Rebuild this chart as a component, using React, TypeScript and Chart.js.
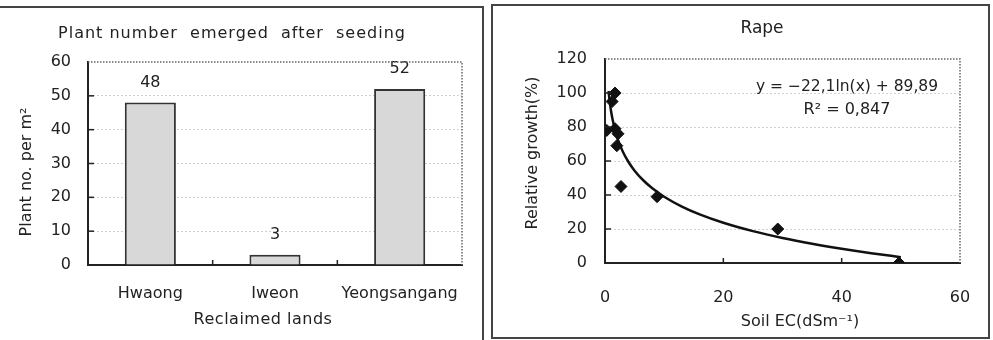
import React, { useEffect, useRef } from 'react';
import { Chart, registerables } from 'chart.js';

Chart.register(...registerables);

// Plant emergence after seeding, by reclaimed land
const LANDS = ['Hwaong', 'Iweon', 'Yeongsangang'];
const PLANT_COUNTS = [48, 3, 52];
const COUNT_MAX = 60;
const COUNT_STEP = 10;

// Relative growth of rape against soil EC
const SOIL_EC = [0.3, 1.2, 1.7, 1.7, 2.2, 2.0, 2.7, 8.8, 29.2, 49.7];
const REL_GROWTH = [78, 95, 100, 79, 76, 69, 45, 39, 20, 0];
const GROWTH_MAX = 120;
const GROWTH_STEP = 20;
const EC_MAX = 60;
const EC_STEP = 20;

// Logarithmic fit y = a ln(x) + b, as printed on the chart
const TREND_SLOPE = -22.1;
const TREND_INTERCEPT = 89.89;
const TREND_X = [0.6, 0.75, 1, 1.3, 1.7, 2.2, 3, 4, 5, 6.5, 8, 10, 13, 16, 20, 25, 30, 35, 40, 45, 50];
const TREND_LABEL = 'y = −22,1ln(x) + 89,89';
const R2_LABEL = 'R² = 0,847';

const FONT = 'DejaVu Sans';
const INK = '#222';

// Dotted top/right frame and short inner tick marks
const framePlugin = {
  id: 'frame',
  afterDraw(chart: any, _args: any, opts: any) {
    const { ctx, chartArea: a, scales } = chart;
    ctx.save();
    ctx.strokeStyle = '#666';
    ctx.lineWidth = 1.5;
    ctx.setLineDash([1.5, 1.5]);
    ctx.beginPath();
    ctx.moveTo(a.left, a.top);
    ctx.lineTo(a.right, a.top);
    ctx.lineTo(a.right, a.bottom);
    ctx.stroke();
    ctx.setLineDash([]);
    ctx.strokeStyle = INK;
    ctx.lineWidth = 1.5;
    const y = scales.y;
    y.ticks.forEach((t: any) => {
      if (t.value <= y.min || t.value >= y.max) return;
      const py = y.getPixelForValue(t.value);
      ctx.beginPath();
      ctx.moveTo(a.left, py);
      ctx.lineTo(a.left + 6, py);
      ctx.stroke();
    });
    const x = scales.x;
    const xs: number[] = [];
    if (opts.category) {
      for (let i = 0; i < x.ticks.length - 1; i++) {
        xs.push((x.getPixelForValue(i) + x.getPixelForValue(i + 1)) / 2);
      }
    } else {
      x.ticks.forEach((t: any) => {
        if (t.value > x.min && t.value < x.max) xs.push(x.getPixelForValue(t.value));
      });
    }
    xs.forEach((px) => {
      ctx.beginPath();
      ctx.moveTo(px, a.bottom);
      ctx.lineTo(px, a.bottom - 5);
      ctx.stroke();
    });
    ctx.restore();
  },
};

// Free text: titles, axis titles, bar values, fit equation
const textPlugin = {
  id: 'texts',
  afterDatasetsDraw(chart: any, _args: any, opts: any) {
    const { ctx } = chart;
    ctx.save();
    ctx.fillStyle = INK;
    ctx.textAlign = 'center';
    ctx.textBaseline = 'middle';
    (opts.items || []).forEach((it: any) => {
      ctx.save();
      ctx.font = `${it.size}px "${FONT}"`;
      (ctx as any).letterSpacing = `${it.spacing || 0}px`;
      ctx.translate(it.x, it.y);
      if (it.rotate) ctx.rotate(-Math.PI / 2);
      ctx.fillText(it.text, 0, 0);
      ctx.restore();
    });
    if (opts.barValues) {
      const meta = chart.getDatasetMeta(0);
      const data = chart.data.datasets[0].data;
      ctx.font = `16px "${FONT}"`;
      meta.data.forEach((bar: any, i: number) => {
        ctx.fillText(String(data[i]), bar.x, bar.y - 20);
      });
    }
    ctx.restore();
  },
};

const gridColor = (max: number) => (c: any) =>
  c.tick && c.tick.value > 0 && c.tick.value < max ? '#d0d0d0' : 'rgba(0,0,0,0)';

const fixWidth = (w: number) => (s: any) => {
  s.width = w;
  s.paddingTop = 0;
  s.paddingBottom = 0;
};
const fixHeight = (h: number) => (s: any) => {
  s.height = h;
  s.paddingLeft = 0;
  s.paddingRight = 0;
};

function EmergenceChart() {
  const ref = useRef<HTMLCanvasElement>(null);
  useEffect(() => {
    const chart = new Chart(ref.current!, {
      type: 'bar',
      data: {
        labels: LANDS,
        datasets: [
          {
            data: PLANT_COUNTS,
            backgroundColor: '#d8d8d8',
            borderColor: '#333',
            borderWidth: 2,
            borderSkipped: 'bottom',
            categoryPercentage: 1,
            barPercentage: 0.41,
          },
        ],
      },
      options: {
        responsive: false,
        animation: false,
        layout: { padding: { top: 62, right: 22, left: 0, bottom: 0 } },
        plugins: {
          legend: { display: false },
          tooltip: { enabled: false },
          frame: { category: true },
          texts: {
            barValues: true,
            items: [
              { text: 'Plant number  emerged  after  seeding', x: 232, y: 34, size: 16, spacing: 1 },
              { text: 'Reclaimed lands', x: 263, y: 320, size: 16, spacing: 0.5 },
              { text: 'Plant no. per m²', x: 27, y: 172, size: 16, rotate: true },
            ],
          },
        } as any,
        scales: {
          x: {
            grid: { display: false, drawTicks: false },
            border: { display: true, color: INK, width: 2 },
            ticks: { color: INK, font: { family: FONT, size: 16 }, padding: 19 },
            afterFit: fixHeight(75),
          },
          y: {
            min: 0,
            max: COUNT_MAX,
            ticks: { stepSize: COUNT_STEP, color: INK, font: { family: FONT, size: 16 }, padding: 17 },
            grid: { color: gridColor(COUNT_MAX), drawTicks: false, lineWidth: 1 },
            border: { display: true, color: INK, width: 2, dash: [2, 2] },
            afterFit: fixWidth(88),
          },
        },
      },
      plugins: [framePlugin, textPlugin],
    });
    return () => chart.destroy();
  }, []);
  return (
    <canvas
      ref={ref}
      width={484}
      height={340}
      style={{ position: 'absolute', left: 0, top: 0, width: 484, height: 340 }}
    />
  );
}

function GrowthChart() {
  const ref = useRef<HTMLCanvasElement>(null);
  useEffect(() => {
    const trend = TREND_X.map((x) => ({ x, y: TREND_SLOPE * Math.log(x) + TREND_INTERCEPT }));
    const points = SOIL_EC.map((x, i) => ({ x, y: REL_GROWTH[i] }));
    const chart = new Chart(ref.current!, {
      type: 'scatter',
      data: {
        datasets: [
          {
            data: trend,
            showLine: true,
            borderColor: '#111',
            borderWidth: 2.5,
            pointRadius: 0,
            cubicInterpolationMode: 'monotone',
          } as any,
          {
            data: points,
            pointStyle: 'rectRot',
            pointRadius: 6,
            backgroundColor: '#111',
            borderColor: '#111',
            borderWidth: 1,
          },
        ],
      },
      options: {
        responsive: false,
        animation: false,
        layout: { padding: { top: 59, right: 30, left: 0, bottom: 0 } },
        plugins: {
          legend: { display: false },
          tooltip: { enabled: false },
          frame: { category: false },
          texts: {
            items: [
              { text: 'Rape', x: 269, y: 29, size: 17 },
              { text: TREND_LABEL, x: 354, y: 87, size: 15.5 },
              { text: R2_LABEL, x: 354, y: 110, size: 16 },
              { text: 'Soil EC(dSm⁻¹)', x: 307, y: 322, size: 16 },
              { text: 'Relative growth(%)', x: 40, y: 153, size: 16, rotate: true },
            ],
          },
        } as any,
        scales: {
          x: {
            type: 'linear',
            min: 0,
            max: EC_MAX,
            grid: { display: false, drawTicks: false },
            border: { display: true, color: INK, width: 2 },
            ticks: { stepSize: EC_STEP, color: INK, font: { family: FONT, size: 16 }, padding: 25 },
            afterFit: fixHeight(77),
          },
          y: {
            min: 0,
            max: GROWTH_MAX,
            ticks: { stepSize: GROWTH_STEP, color: INK, font: { family: FONT, size: 16 }, padding: 18 },
            grid: { color: gridColor(GROWTH_MAX), drawTicks: false, lineWidth: 1 },
            border: { display: true, color: INK, width: 2, dash: [2, 2] },
            afterFit: fixWidth(112),
          },
        },
      },
      plugins: [framePlugin, textPlugin],
    });
    return () => chart.destroy();
  }, []);
  return (
    <canvas
      ref={ref}
      width={497}
      height={340}
      style={{ position: 'absolute', left: 493, top: 0, width: 497, height: 340 }}
    />
  );
}

export default function App() {
  return (
    <div
      style={{
        position: 'fixed',
        left: 0,
        top: 0,
        width: 993,
        height: 340,
        background: '#fff',
        overflow: 'hidden',
      }}
    >
      <div
        style={{
          position: 'absolute',
          left: -4,
          top: 6,
          width: 488,
          height: 400,
          border: '2px solid #444',
          boxSizing: 'border-box',
        }}
      />
      <div
        style={{
          position: 'absolute',
          left: 491,
          top: 4,
          width: 499,
          height: 335,
          border: '2px solid #444',
          boxSizing: 'border-box',
        }}
      />
      <EmergenceChart />
      <GrowthChart />
    </div>
  );
}
